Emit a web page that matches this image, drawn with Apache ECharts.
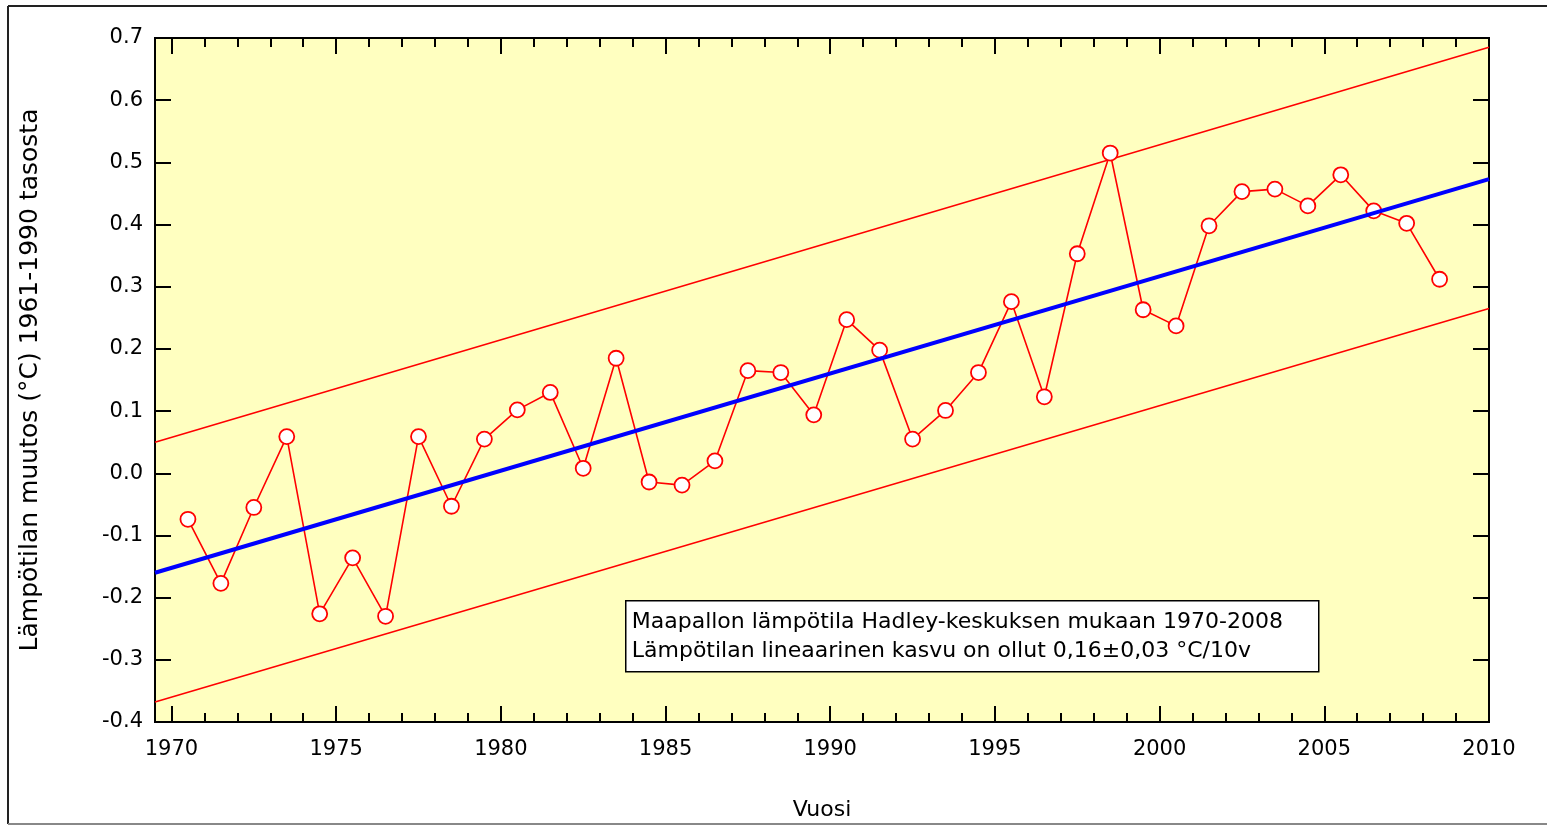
<!DOCTYPE html>
<html>
<head>
<meta charset="utf-8">
<script src="https://cdn.jsdelivr.net/npm/echarts@6/dist/echarts.min.js"></script>
<style>
html,body{margin:0;padding:0;background:#fff;}
#chart{width:1547px;height:825px;}
</style>
</head>
<body>
<div id="chart"></div>
<script>
// ---- data ----
const years = [1970,1971,1972,1973,1974,1975,1976,1977,1978,1979,
               1980,1981,1982,1983,1984,1985,1986,1987,1988,1989,
               1990,1991,1992,1993,1994,1995,1996,1997,1998,1999,
               2000,2001,2002,2003,2004,2005,2006,2007,2008];
const anomalies = [-0.074,-0.177,-0.055,0.059,-0.226,-0.136,-0.230,0.059,-0.053,0.055,
                   0.102,0.130,0.008,0.185,-0.014,-0.019,0.020,0.165,0.162,0.094,
                   0.247,0.198,0.055,0.101,0.162,0.276,0.123,0.353,0.515,0.263,
                   0.237,0.398,0.453,0.457,0.430,0.480,0.422,0.402,0.312];
const lineX = [1969.5, 2010];
const trendY = [-0.160, 0.473];
const upperY = [0.050, 0.685];
const lowerY = [-0.368, 0.265];
const xMajorTicks = [1970,1975,1980,1985,1990,1995,2000,2005,2010];
const xMinorTicks = [1971,1972,1973,1974,1976,1977,1978,1979,1981,1982,1983,1984,1986,1987,1988,1989,
                     1991,1992,1993,1994,1996,1997,1998,1999,2001,2002,2003,2004,2006,2007,2008,2009];
const yAxisTitle = 'Lämpötilan muutos (°C) 1961-1990 tasosta';
const xAxisTitle = 'Vuosi';
const noteLines = ['Maapallon lämpötila Hadley-keskuksen mukaan 1970-2008',
                   'Lämpötilan lineaarinen kasvu on ollut 0,16±0,03 °C/10v'];

// ---- chart ----
const FONT = '"DejaVu Sans", sans-serif';
const GL = 155, GT = 38, GW = 1334, GH = 684;
const chart = echarts.init(document.getElementById('chart'));
const pairs = (xs, ys) => xs.map((x, i) => [x, ys[i]]);

function xAx(pos, ticks, len, showLabel, extra) {
  return Object.assign({
    type: 'value', position: pos, min: 1969.5, max: 2010,
    axisLine: {show: true, onZero: false, lineStyle: {color: '#000', width: 2}},
    axisTick: {show: true, inside: true, length: len, customValues: ticks, lineStyle: {color: '#000', width: 2}},
    axisLabel: showLabel ? {show: true, customValues: ticks, fontSize: 21, color: '#000', fontFamily: FONT, margin: 17,
                            formatter: v => String(Math.round(v))}
                         : {show: false},
    splitLine: {show: false}
  }, extra || {});
}
function yAx(pos, showLabel, extra) {
  return Object.assign({
    type: 'value', position: pos, min: -0.4, max: 0.7, interval: 0.1,
    axisLine: {show: true, onZero: false, lineStyle: {color: '#000', width: 2}},
    axisTick: {show: true, inside: true, length: 16, lineStyle: {color: '#000', width: 2}},
    axisLabel: showLabel ? {show: true, fontSize: 21, color: '#000', fontFamily: FONT, margin: 12,
                            formatter: v => (Math.abs(v) < 1e-9 ? 0 : v).toFixed(1)}
                         : {show: false},
    splitLine: {show: false}
  }, extra || {});
}

chart.setOption({
  animation: false,
  backgroundColor: '#fff',
  grid: {left: GL, top: GT, width: GW, height: GH, show: true, backgroundColor: '#FFFFC0',
         borderColor: '#000', borderWidth: 2, containLabel: false, outerBoundsMode: 'none'},
  xAxis: [
    xAx('bottom', xMajorTicks, 16, true, {
      name: xAxisTitle, nameLocation: 'middle', nameGap: 77,
      nameTextStyle: {fontSize: 22, color: '#000', fontFamily: FONT}
    }),
    xAx('bottom', xMinorTicks, 9, false),
    xAx('top', xMajorTicks, 16, false),
    xAx('top', xMinorTicks, 9, false)
  ],
  yAxis: [
    yAx('left', true, {
      name: yAxisTitle, nameLocation: 'middle', nameGap: 112, nameRotate: 90,
      nameTextStyle: {fontSize: 25, color: '#000', fontFamily: FONT}
    }),
    yAx('right', false)
  ],
  series: [
    {type: 'line', data: pairs(lineX, upperY), showSymbol: false, symbol: 'none',
     lineStyle: {color: '#FF0000', width: 1.6}, z: 2},
    {type: 'line', data: pairs(lineX, lowerY), showSymbol: false, symbol: 'none',
     lineStyle: {color: '#FF0000', width: 1.6}, z: 2},
    {type: 'line', data: pairs(years.map(y => y + 0.5), anomalies),
     symbol: 'circle', symbolSize: 15,
     lineStyle: {color: '#FF0000', width: 1.6},
     itemStyle: {color: '#FFFFFF', borderColor: '#FF0000', borderWidth: 1.8}, z: 3},
    {type: 'line', data: pairs(lineX, trendY), showSymbol: false, symbol: 'none',
     lineStyle: {color: '#0000FF', width: 4}, z: 4}
  ],
  graphic: [
    {type: 'line', shape: {x1: 8, y1: 6, x2: 1547, y2: 6}, style: {stroke: '#222', lineWidth: 2}},
    {type: 'line', shape: {x1: 8, y1: 6, x2: 8, y2: 824}, style: {stroke: '#222', lineWidth: 2}},
    {type: 'line', shape: {x1: 8, y1: 824, x2: 1547, y2: 824}, style: {stroke: '#888', lineWidth: 2}},
    {type: 'group', left: 625, top: 600, z: 100, children: [
      {type: 'rect', shape: {x: 0, y: 0, width: 693, height: 71},
       style: {fill: '#fff', stroke: '#000', lineWidth: 1.5}},
      {type: 'text', x: 6, y: 22, style: {text: noteLines[0], font: '22px ' + FONT, fill: '#000', textVerticalAlign: 'middle'}},
      {type: 'text', x: 6, y: 51, style: {text: noteLines[1], font: '22px ' + FONT, fill: '#000', textVerticalAlign: 'middle'}}
    ]}
  ]
});
</script>
</body>
</html>
